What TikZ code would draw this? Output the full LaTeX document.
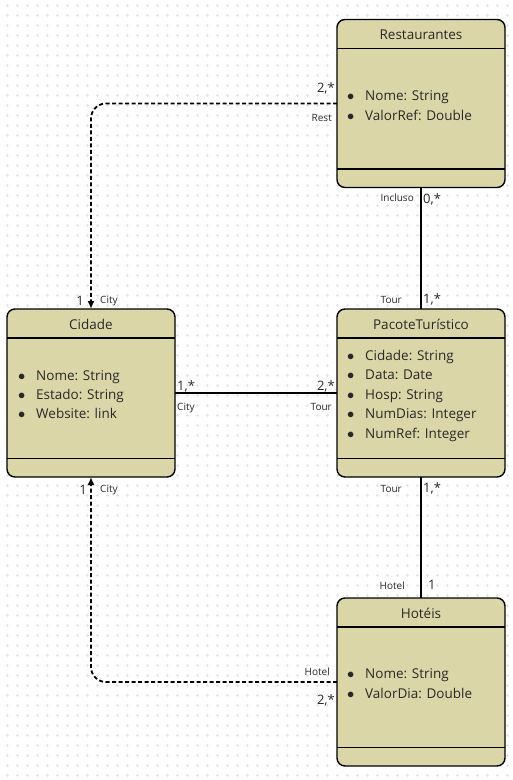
\documentclass[tikz,border=0pt]{standalone}
\usepackage{fontspec}
\setmainfont{Open Sans}
\usetikzlibrary{arrows.meta}
\definecolor{clsfill}{RGB}{219,214,168}
\definecolor{gridc}{RGB}{228,228,228}
\definecolor{txt}{RGB}{40,40,40}
\begin{document}
\begin{tikzpicture}[x=1pt,y=-1pt,
  cls/.style={draw, line width=1.4pt, fill=clsfill, rounded corners=8pt,
    minimum width=168pt, minimum height=168pt, inner sep=0pt, outer sep=0pt},
  sep/.style={line width=1.4pt},
  title/.style={anchor=base, inner sep=0pt, text=txt, font=\fontsize{13.5}{16}\selectfont},
  attr/.style={anchor=base west, inner sep=0pt, text=txt, font=\fontsize{13.5}{16}\selectfont},
  mult/.style={inner sep=0pt, text=txt, font=\fontsize{13}{15}\selectfont},
  role/.style={inner sep=0pt, text=txt, font=\fontsize{10}{12}\selectfont},
  conn/.style={line width=1.8pt},
  dep/.style={line width=1.8pt, dash pattern=on 4pt off 2.5pt, rounded corners=15pt,
    -{Latex[length=8pt,width=7pt]}}]
\useasboundingbox (0,0) rectangle (513,780);
\fill[white] (0,0) rectangle (513,780);
% grid
\foreach \gx in {7,17,...,507} {
  \foreach \gy in {5,15,...,775} {
    \draw[gridc, line width=0.5pt] (\gx-1.5,\gy) -- (\gx+1.5,\gy) (\gx,\gy-1.5) -- (\gx,\gy+1.5);
  }
}
% class boxes
\node[cls] (rest) at (421,103.5) {};
\node[cls] (cid) at (91,393) {};
\node[cls] (pac) at (421,393) {};
\node[cls] (hot) at (421,682) {};
\foreach \b in {rest,cid,pac,hot} {
  \draw[sep] ([yshift=-29pt]\b.north west) -- ([yshift=-29pt]\b.north east);
  \draw[sep] ([yshift=18.5pt]\b.south west) -- ([yshift=18.5pt]\b.south east);
}
% titles
\node[title] (restT) at (421,39) {Restaurantes};
\node[title] (cidT) at (91,329) {Cidade};
\node[title] (pacT) at (421,329) {PacoteTurístico};
\node[title] (hotT) at (421,618) {Hotéis};
% attributes
\newcommand{\bul}{\makebox[18pt][l]{$\bullet$}}
\node[attr] (r1) at (347,100) {\bul Nome: String};
\node[attr] (r2) at (347,120) {\bul ValorRef: Double};
\node[attr] (c1) at (18,380) {\bul Nome: String};
\node[attr] (c2) at (18,399) {\bul Estado: String};
\node[attr] (c3) at (18,418) {\bul Website: link};
\node[attr] (p1) at (347,360) {\bul Cidade: String};
\node[attr] (p2) at (347,379) {\bul Data: Date};
\node[attr] (p3) at (347,399) {\bul Hosp: String};
\node[attr] (p4) at (347,418) {\bul NumDias: Integer};
\node[attr] (p5) at (347,438) {\bul NumRef: Integer};
\node[attr] (h1) at (347,678) {\bul Nome: String};
\node[attr] (h2) at (347,698) {\bul ValorDia: Double};
% connectors
\draw[dep] (rest.west) -| (cid.north);
\draw[dep] (hot.west) -| (cid.south);
\draw[conn] (cid.east) -- (pac.west);
\draw[conn] (rest.south) -- (pac.north);
\draw[conn] (pac.south) -- (hot.north);
% labels: Restaurantes - Cidade
\node[mult, anchor=base east] (m1) at (335,92) {2,*};
\node[role, anchor=base east] (l1) at (332,121) {Rest};
\node[mult, anchor=base east] (m2) at (84,305) {1};
\node[role, anchor=base west] (l2) at (100,303) {City};
% Cidade - Pacote
\node[mult, anchor=base west] (m3) at (177,390) {1,*};
\node[role, anchor=base west] (l3) at (177,410) {City};
\node[mult, anchor=base east] (m4) at (335,390) {2,*};
\node[role, anchor=base east] (l4) at (332,410) {Tour};
% Restaurantes - Pacote
\node[role, anchor=base east] (l5) at (414,201) {Incluso};
\node[mult, anchor=base west] (m5) at (423,203) {0,*};
\node[role, anchor=base east] (l6) at (402,303) {Tour};
\node[mult, anchor=base west] (m6) at (423,303) {1,*};
% Pacote - Hoteis
\node[role, anchor=base east] (l7) at (402,492) {Tour};
\node[mult, anchor=base west] (m7) at (423,492) {1,*};
\node[role, anchor=base east] (l8) at (405,589) {Hotel};
\node[mult, anchor=base west] (m8) at (428,589) {1};
% Hoteis - Cidade
\node[role, anchor=base east] (l9) at (330,675) {Hotel};
\node[mult, anchor=base east] (m9) at (335,704) {2,*};
\node[mult, anchor=base east] (m10) at (87,494) {1};
\node[role, anchor=base west] (l10) at (100,492) {City};
\end{tikzpicture}
\end{document}
